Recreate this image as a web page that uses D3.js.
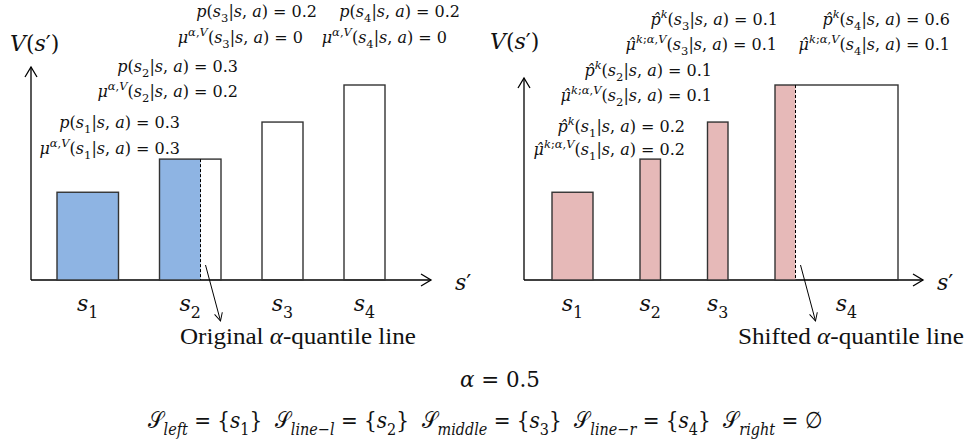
<!DOCTYPE html>
<html><head><meta charset="utf-8">
<script src="https://cdn.jsdelivr.net/npm/d3@7"></script>
<style>body{margin:0;background:#fff}text{white-space:pre}</style>
</head><body>
<svg id="c" width="969" height="442"></svg>
<script>
// ---- data ----
const states = ["s_1","s_2","s_3","s_4"];
const V = [0.45, 0.62, 0.81, 1.0];
const pOrig = [0.3, 0.3, 0.2, 0.2];
const muOrig = [0.3, 0.2, 0, 0];
const pShift = [0.2, 0.1, 0.1, 0.6];
const muShift = [0.2, 0.1, 0.1, 0.1];
const alpha = 0.5;
const leftLabels = [
  ["p(s_1|s, a) = 0.3","μ^{α,V}(s_1|s, a) = 0.3"],
  ["p(s_2|s, a) = 0.3","μ^{α,V}(s_2|s, a) = 0.2"],
  ["p(s_3|s, a) = 0.2","μ^{α,V}(s_3|s, a) = 0"],
  ["p(s_4|s, a) = 0.2","μ^{α,V}(s_4|s, a) = 0"]
];
const rightLabels = [
  ["p̂^k(s_1|s, a) = 0.2","μ̂^{k;α,V}(s_1|s, a) = 0.2"],
  ["p̂^k(s_2|s, a) = 0.1","μ̂^{k;α,V}(s_2|s, a) = 0.1"],
  ["p̂^k(s_3|s, a) = 0.1","μ̂^{k;α,V}(s_3|s, a) = 0.1"],
  ["p̂^k(s_4|s, a) = 0.6","μ̂^{k;α,V}(s_4|s, a) = 0.1"]
];
const setsLine = "𝒮_{left} = {s_1}  𝒮_{line−l} = {s_2}  𝒮_{middle} = {s_3}  𝒮_{line−r} = {s_4}  𝒮_{right} = ∅";

const MATH = "'DejaVu Serif', serif";
const svg = d3.select("#c");

function addMath(g, str, x, y, size, anchor) {
  const t = g.append("text").attr("x", x).attr("y", y).attr("font-size", size)
    .attr("text-anchor", anchor || "start").attr("font-family", MATH).attr("fill", "#111");
  const chars = Array.from(str); const items = []; let i = 0;
  while (i < chars.length) {
    const c = chars[i];
    if (c === "_" || c === "^") {
      const lvl = c === "_" ? -1 : 1; i++;
      if (chars[i] === "{") { i++; while (chars[i] !== "}") { items.push({ch: chars[i], level: lvl}); i++; } i++; }
      else { items.push({ch: chars[i], level: lvl}); i++;
        while (i < chars.length && /\p{M}/u.test(chars[i])) { items.push({ch: chars[i], level: lvl}); i++; } }
    } else { items.push({ch: c, level: 0}); i++; }
  }
  let prev = false;
  items.forEach(it => {
    if (/\p{M}/u.test(it.ch)) it.it = prev;
    else it.it = /\p{L}/u.test(it.ch) && it.ch !== "𝒮";
    prev = it.it;
  });
  const runs = [];
  items.forEach(it => {
    const last = runs[runs.length - 1];
    if (last && last.it === it.it && last.level === it.level) last.s += it.ch;
    else runs.push({s: it.ch, it: it.it, level: it.level});
  });
  let cur = 0;
  runs.forEach(r => {
    const shift = r.level === -1 ? 0.3 * size : r.level === 1 ? -0.42 * size : 0;
    t.append("tspan").attr("dy", shift - cur).attr("font-style", r.it ? "italic" : "normal")
      .attr("font-size", r.level ? size * 0.72 : size).text(r.s);
    cur = shift;
  });
  return t;
}
function fit(t, target, ax) {
  const w = t.node().getBBox().width;
  const s = target / w;
  t.attr("transform", `translate(${ax},0) scale(${s},1) translate(${-ax},0)`);
}

// markers
const defs = svg.append("defs");
defs.append("marker").attr("id", "ax").attr("viewBox", "-12 -8 14 16").attr("markerWidth", 14).attr("markerHeight", 16)
  .attr("markerUnits", "userSpaceOnUse").attr("refX", 0).attr("refY", 0).attr("orient", "auto")
  .append("path").attr("d", "M-10,-6 L0,0 L-10,6").attr("fill", "none").attr("stroke", "#000").attr("stroke-width", 1.3);
defs.append("marker").attr("id", "pt").attr("viewBox", "-10 -6 12 12").attr("markerWidth", 12).attr("markerHeight", 12)
  .attr("markerUnits", "userSpaceOnUse").attr("refX", 0).attr("refY", 0).attr("orient", "auto")
  .append("path").attr("d", "M-8,-4 L0,0 L-8,4").attr("fill", "none").attr("stroke", "#000").attr("stroke-width", 1);

const baseY = 280;
const y = d3.scaleLinear().domain([0, 1]).range([baseY, 85]);
const PX = 205; // px per unit of probability

function panel(cfg) {
  const g = svg.append("g");
  const starts = []; let acc = cfg.offset;
  cfg.p.forEach((p, i) => { starts.push(acc); acc += p + cfg.gap; });
  const x = d3.scaleLinear().domain([0, 1]).range([cfg.ax, cfg.ax + PX]);
  g.append("line").attr("x1", cfg.ax).attr("y1", baseY).attr("x2", cfg.ax).attr("y2", cfg.yTop)
    .attr("stroke", "#000").attr("stroke-width", 1.3).attr("marker-end", "url(#ax)");
  g.append("line").attr("x1", cfg.ax).attr("y1", baseY).attr("x2", cfg.xEnd).attr("y2", baseY)
    .attr("stroke", "#000").attr("stroke-width", 1.3).attr("marker-end", "url(#ax)");
  addMath(g, "V(s′)", cfg.vx, cfg.vy, 22, "start");
  addMath(g, "s′", cfg.xEnd + cfg.sdx, baseY + 10, 22, "start");
  const data = states.map((s, i) => ({s, v: V[i], p: cfg.p[i], mu: cfg.mu[i], x0: starts[i]}));
  g.selectAll("rect.f").data(data).join("rect").attr("class", "f")
    .attr("x", d => x(d.x0)).attr("y", d => y(d.v))
    .attr("width", d => x(d.x0 + d.mu) - x(d.x0)).attr("height", d => y(0) - y(d.v))
    .attr("fill", cfg.color);
  g.selectAll("rect.o").data(data).join("rect").attr("class", "o")
    .attr("x", d => x(d.x0)).attr("y", d => y(d.v))
    .attr("width", d => x(d.x0 + d.p) - x(d.x0)).attr("height", d => y(0) - y(d.v))
    .attr("fill", "none").attr("stroke", "#333").attr("stroke-width", 1.4);
  const q = data.filter(d => d.mu > 0 && d.mu < d.p);
  g.selectAll("line.q").data(q).join("line").attr("class", "q")
    .attr("x1", d => x(d.x0 + d.mu)).attr("x2", d => x(d.x0 + d.mu))
    .attr("y1", d => y(d.v)).attr("y2", y(0))
    .attr("stroke", "#000").attr("stroke-width", 1).attr("stroke-dasharray", "3,2");
  q.forEach(d => {
    const qx = x(d.x0 + d.mu);
    g.append("line").attr("x1", qx + 5).attr("y1", baseY - 15).attr("x2", qx + 20).attr("y2", baseY + 41)
      .attr("stroke", "#000").attr("stroke-width", 1).attr("marker-end", "url(#pt)");
  });
  data.forEach((d, i) => addMath(g, d.s, x(d.x0 + d.p / 2) + (cfg.labDx[i] || 0), 311, 22, "middle"));
  cfg.labels.forEach((pair, i) => {
    const pos = cfg.labPos[i];
    addMath(g, pair[0], pos[0], pos[1], 16, "end");
    addMath(g, pair[1], pos[2], pos[3], 16, "end");
  });
  const cap = g.append("text").attr("x", cfg.capX).attr("y", 344).attr("font-family", "'Liberation Serif', serif")
    .attr("font-size", 24).attr("fill", "#111");
  cap.append("tspan").text(cfg.capA);
  cap.append("tspan").attr("font-style", "italic").text("α");
  cap.append("tspan").text("-quantile line");
  fit(cap, cfg.capW, cfg.capX);
}

panel({ax: 31, yTop: 67, xEnd: 431, sdx: 24, offset: 26 / PX, gap: 41 / PX, p: pOrig, mu: muOrig, color: "#8EB4E3",
  vx: 10, vy: 51, labDx: [0, 0, 0, 0], capX: 180, capW: 236, capA: "Original ",
  labels: leftLabels,
  labPos: [[180, 128, 180, 154], [238, 72, 238, 97], [317, 17, 303, 43], [460, 17, 447, 43]]});
panel({ax: 524, yTop: 78, xEnd: 923, sdx: 14, offset: 28 / PX, gap: 47 / PX, p: pShift, mu: muShift, color: "#E6B9B8",
  vx: 490, vy: 49, labDx: [0, 0, 0, 10], capX: 738, capW: 226, capA: "Shifted ",
  labels: rightLabels,
  labPos: [[685, 132, 685, 155], [712, 76, 712, 101], [778, 25, 777, 50], [950, 25, 950, 50]]});

const at = addMath(svg, "α = " + alpha, 500, 387, 22, "middle");
fit(at, 80, 500);
const st = addMath(svg, setsLine, 485, 428, 23, "middle");
fit(st, 674, 485);
</script>
</body></html>
